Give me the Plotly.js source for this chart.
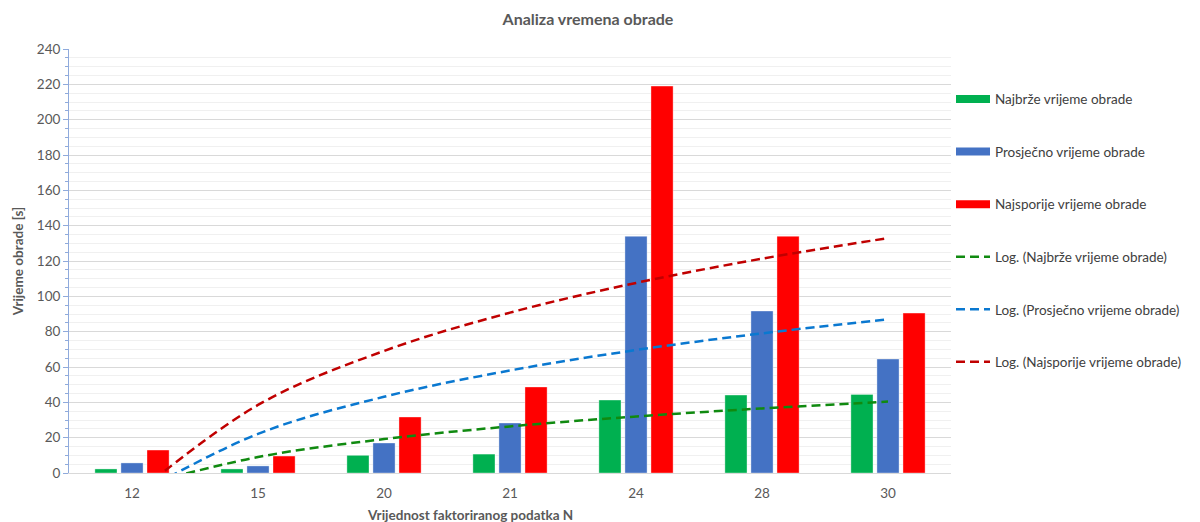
<!DOCTYPE html>
<html>
<head>
<meta charset="utf-8">
<script src="https://cdn.plot.ly/plotly-3.0.1.min.js"></script>
<style>html,body{margin:0;padding:0;background:#fff;}#chart{width:1200px;height:522px;}</style>
</head>
<body>
<div id="chart"></div>
<script>
// Data
const categories = ["12", "15", "20", "21", "24", "28", "30"];
const najbrze   = [2.3, 2.3, 10, 10.7, 41.3, 44.1, 44.5];
const prosjecno = [5.7, 4.0, 17, 28.3, 134, 91.7, 64.5];
const najsporije = [13, 9.6, 31.7, 48.7, 219, 134, 90.5];
const seriesNames = ["Najbrže vrijeme obrade", "Prosječno vrijeme obrade", "Najsporije vrijeme obrade"];

const barColors = ["#00B050", "#4472C4", "#FF0000"];
const trendColors = ["#108A10", "#0A78D0", "#C00000"];

const xpos = categories.map((c, i) => i);

// Logarithmic trendline (least squares y = a*ln(x) + b, x = 1..n), as in Excel
function logFit(vals) {
  const n = vals.length;
  const lx = vals.map((v, i) => Math.log(i + 1));
  const mx = lx.reduce((a, b) => a + b, 0) / n;
  const my = vals.reduce((a, b) => a + b, 0) / n;
  let sxy = 0, sxx = 0;
  for (let i = 0; i < n; i++) { sxy += (lx[i] - mx) * (vals[i] - my); sxx += (lx[i] - mx) ** 2; }
  const a = sxy / sxx, b = my - a * mx;
  return lx.map(l => a * l + b);
}

const allSeries = [najbrze, prosjecno, najsporije];
const font = "Lato, 'Open Sans', sans-serif";

const traces = [];
allSeries.forEach((s, k) => {
  traces.push({
    type: "bar", x: xpos, y: s, name: seriesNames[k],
    marker: {color: barColors[k], line: {color: "rgba(255,255,255,0.6)", width: 0.6}},
    legendgroup: "g" + k, showlegend: false, hoverinfo: "x+y"
  });
  // legend entry drawn as a wide colour band, like the original
  traces.push({
    type: "scatter", mode: "lines", x: [null], y: [null], name: seriesNames[k],
    line: {color: barColors[k], width: 8}, legendgroup: "g" + k, showlegend: true
  });
});
allSeries.forEach((s, k) => {
  traces.push({
    type: "scatter", mode: "lines", x: xpos, y: logFit(s),
    name: "Log. (" + seriesNames[k] + ")",
    line: {color: trendColors[k], width: 2.5, dash: "9px,5px", shape: "spline", smoothing: 1},
    legendgroup: "t" + k
  });
});

const layout = {
  width: 1200, height: 522,
  margin: {l: 69, r: 249, t: 49, b: 49},
  paper_bgcolor: "#ffffff", plot_bgcolor: "#ffffff",
  font: {family: font, color: "#595959", size: 13},
  title: {text: "<b>Analiza vremena obrade</b>", x: 0.49, xref: "container", y: 0.962, yref: "container", yanchor: "middle",
          font: {size: 16, color: "#595959", family: font}},
  barmode: "group", bargap: 0.38, bargroupgap: 0.15,
  showlegend: true,
  legend: {x: 1.0, xanchor: "left", y: 0.918, yanchor: "top", tracegroupgap: 32,
           font: {size: 13.5, color: "#404040", family: font}, bgcolor: "rgba(0,0,0,0)", itemwidth: 34},
  xaxis: {
    range: [-0.5, 6.5], tickmode: "array", tickvals: xpos, ticktext: categories,
    showgrid: false, zeroline: false, showline: true, linecolor: "#d9d9d9", linewidth: 1,
    ticks: "", tickfont: {size: 13.5, color: "#595959"}, ticklabelstandoff: 8, fixedrange: true
  },
  yaxis: {
    range: [0, 240], dtick: 20, tick0: 0,
    showgrid: true, gridcolor: "#d9d9d9", gridwidth: 1,
    minor: {dtick: 5, showgrid: true, gridcolor: "#f0f0f0", ticks: "outside", ticklen: 3, tickcolor: "#8FAADC"},
    zeroline: false, showline: true, linecolor: "#8FAADC", linewidth: 1,
    ticks: "outside", ticklen: 5, tickcolor: "#8FAADC",
    tickfont: {size: 13.5, color: "#595959"},
    title: {text: "<b>Vrijeme obrade [s]</b>", font: {size: 13.5, color: "#595959"}, standoff: 10},
    fixedrange: true
  },
  annotations: [{
    text: "<b>Vrijednost faktoriranog podatka N</b>", xref: "paper", yref: "paper",
    x: 0.455, y: -0.1, xanchor: "center", yanchor: "middle", showarrow: false,
    font: {size: 13.5, color: "#595959", family: font}
  }]
};

Plotly.newPlot("chart", traces, layout, {displayModeBar: false, staticPlot: true});
</script>
</body>
</html>
